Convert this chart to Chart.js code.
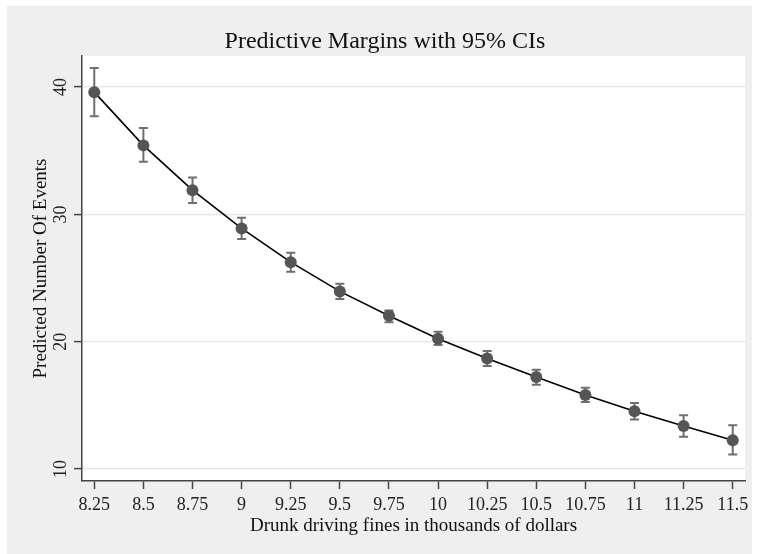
<!DOCTYPE html>
<html>
<head>
<meta charset="utf-8">
<script src="https://cdn.jsdelivr.net/npm/chart.js@4"></script>
<style>
  html, body { margin: 0; padding: 0; background: #ffffff; }
  #wrap { width: 760px; height: 554px; }
</style>
</head>
<body>
<div id="wrap"><canvas id="c" width="760" height="554"></canvas></div>
<script>
// ---- data ----
const fines = [8.25, 8.5, 8.75, 9, 9.25, 9.5, 9.75, 10, 10.25, 10.5, 10.75, 11, 11.25, 11.5];
const predicted = [39.6, 35.42, 31.9, 28.9, 26.25, 23.95, 22.04, 20.24, 18.69, 17.23, 15.81, 14.53, 13.38, 12.26];
const ciLower = [37.7, 34.14, 30.9, 28.06, 25.5, 23.35, 21.52, 19.74, 18.09, 16.62, 15.26, 13.9, 12.54, 11.14];
const ciUpper = [41.5, 36.78, 32.9, 29.74, 26.99, 24.55, 22.46, 20.79, 19.27, 17.8, 16.39, 15.18, 14.22, 13.44];
const xTickValues = [8.25, 8.5, 8.75, 9, 9.25, 9.5, 9.75, 10, 10.25, 10.5, 10.75, 11, 11.25, 11.5];
const xTickLabels = ['8.25', '8.5', '8.75', '9', '9.25', '9.5', '9.75', '10', '10.25', '10.5', '10.75', '11', '11.25', '11.5'];
const yTickValues = [10, 20, 30, 40];
const yTickLabels = ['10', '20', '30', '40'];
const titleText = 'Predictive Margins with 95% CIs';
const xTitle = 'Drunk driving fines in thousands of dollars';
const yTitle = 'Predicted Number Of Events';

const serif = "'Liberation Serif', serif";

const bgPlugin = {
  id: 'bg',
  beforeDraw(chart) {
    const ctx = chart.ctx;
    const a = chart.chartArea;
    ctx.save();
    ctx.fillStyle = '#efefef';
    ctx.fillRect(7, 6, 745, 548);
    ctx.fillStyle = '#ffffff';
    ctx.fillRect(a.left, a.top, a.right - a.left, a.bottom - a.top);
    ctx.restore();
  }
};

const errPlugin = {
  id: 'errbars',
  beforeDatasetsDraw(chart) {
    const ctx = chart.ctx;
    const xs = chart.scales.x, ys = chart.scales.y;
    ctx.save();
    ctx.strokeStyle = '#6f6f6f';
    ctx.lineWidth = 2;
    for (let i = 0; i < fines.length; i++) {
      const px = xs.getPixelForValue(fines[i]);
      const pl = ys.getPixelForValue(ciLower[i]);
      const pu = ys.getPixelForValue(ciUpper[i]);
      ctx.beginPath();
      ctx.moveTo(px, pl); ctx.lineTo(px, pu);
      ctx.moveTo(px - 4.5, pl); ctx.lineTo(px + 4.5, pl);
      ctx.moveTo(px - 4.5, pu); ctx.lineTo(px + 4.5, pu);
      ctx.stroke();
    }
    ctx.restore();
  }
};

new Chart(document.getElementById('c'), {
  type: 'scatter',
  data: {
    datasets: [{
      data: fines.map((f, i) => ({ x: f, y: predicted[i] })),
      showLine: true,
      borderColor: '#000000',
      borderWidth: 1.6,
      tension: 0,
      pointRadius: 6,
      pointBackgroundColor: '#555555',
      pointBorderColor: '#555555',
      pointBorderWidth: 0
    }]
  },
  plugins: [bgPlugin, errPlugin],
  options: {
    responsive: false,
    animation: false,
    devicePixelRatio: 1,
    layout: { padding: { left: 25, right: 15, top: 0, bottom: 0 } },
    plugins: {
      legend: { display: false },
      tooltip: { enabled: false },
      title: {
        display: true,
        text: titleText,
        color: '#111111',
        font: { family: serif, size: 24, weight: 400 },
        padding: { top: 27, bottom: 0.2 }
      }
    },
    scales: {
      x: {
        type: 'linear',
        min: 8.1875,
        max: 11.5625,
        afterBuildTicks(s) { s.ticks = xTickValues.map(v => ({ value: v })); },
        afterFit(s) { s.height = 73; s.paddingLeft = 0; s.paddingRight = 0; },
        ticks: {
          callback: (v, i) => xTickLabels[i],
          color: '#222222',
          font: { family: serif, size: 18 },
          padding: 5,
          maxRotation: 0,
          autoSkip: false
        },
        grid: { drawOnChartArea: false, drawTicks: true, tickLength: 8, tickColor: '#444444', tickWidth: 1.5 },
        border: { color: '#444444', width: 1.5 },
        title: {
          display: true, text: xTitle, color: '#111111',
          font: { family: serif, size: 19 },
          padding: { top: 0, bottom: 17 }
        }
      },
      y: {
        type: 'linear',
        min: 9.06,
        max: 42.44,
        afterBuildTicks(s) { s.ticks = yTickValues.map(v => ({ value: v })); },
        afterFit(s) { s.width = 57; s.paddingTop = 0; s.paddingBottom = 0; },
        ticks: {
          callback: (v, i) => yTickLabels[i],
          color: '#222222',
          font: { family: serif, size: 18 },
          padding: 4,
          minRotation: 90,
          maxRotation: 90,
          crossAlign: 'center'
        },
        grid: { color: '#e4e4e4', lineWidth: 1.2, drawTicks: true, tickLength: 8, tickColor: '#444444', tickWidth: 1.5 },
        border: { color: '#444444', width: 1.5 },
        title: {
          display: true, text: yTitle, color: '#111111',
          font: { family: serif, size: 19 },
          padding: { top: 5, bottom: 0 }
        }
      }
    }
  }
});
</script>
</body>
</html>
